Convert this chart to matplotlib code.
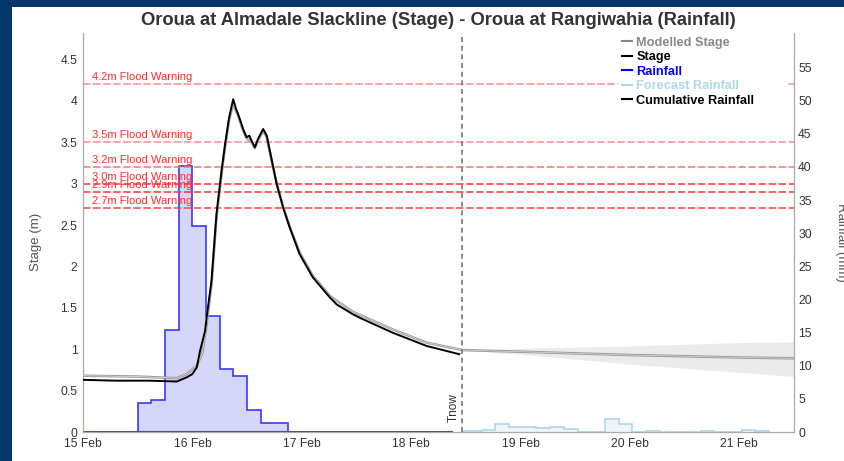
import matplotlib
matplotlib.use("Agg")
import matplotlib.pyplot as plt
import matplotlib.dates as mdates
from matplotlib.patches import Rectangle
from matplotlib.ticker import FuncFormatter
import numpy as np
import pandas as pd

plt.rcParams['font.family'] = ['Liberation Sans', 'DejaVu Sans']

t0 = pd.Timestamp("2004-02-15 00:00")
t_now = pd.Timestamp("2004-02-18 11:12")

# observed stage (days after 15 Feb 00:00, metres)
stage_days = [0.0, 0.3, 0.6, 0.857, 0.948, 1.0, 1.04, 1.07, 1.116, 1.13, 1.175, 1.22,
              1.267, 1.297, 1.336, 1.373, 1.40, 1.418, 1.464, 1.495, 1.52, 1.54, 1.571,
              1.60, 1.647, 1.68, 1.72, 1.77, 1.83, 1.89, 1.98, 2.10, 2.26, 2.32, 2.47,
              2.53, 2.83, 3.14, 3.44]
stage_m = [0.63, 0.62, 0.62, 0.61, 0.66, 0.70, 0.78, 0.98, 1.22, 1.38, 1.83, 2.63,
           3.16, 3.46, 3.80, 4.02, 3.90, 3.84, 3.66, 3.56, 3.58, 3.52, 3.44,
           3.54, 3.66, 3.58, 3.32, 3.00, 2.71, 2.47, 2.15, 1.87, 1.62, 1.54, 1.42,
           1.38, 1.20, 1.04, 0.94]

# modelled stage, hindcast + forecast
model_days = [0.0, 0.5, 0.857, 0.948, 1.04, 1.09, 1.13, 1.175, 1.22, 1.267, 1.297, 1.336,
              1.373, 1.418, 1.464, 1.495, 1.54, 1.571, 1.60, 1.647, 1.68, 1.72, 1.77,
              1.83, 1.89, 1.98, 2.10, 2.26, 2.47, 2.83, 3.14, 3.467, 4.0, 5.0, 6.0, 6.5]
model_m = [0.68, 0.67, 0.65, 0.70, 0.80, 0.95, 1.30, 1.78, 2.58, 3.12, 3.43, 3.77,
           3.96, 3.82, 3.64, 3.55, 3.50, 3.43, 3.52, 3.64, 3.56, 3.31, 3.00,
           2.72, 2.48, 2.17, 1.89, 1.64, 1.45, 1.24, 1.08, 0.99, 0.97, 0.93, 0.90, 0.89]

# forecast uncertainty band
band_days = [3.467, 4.0, 5.0, 6.0, 6.5]
band_hi = [0.99, 1.01, 1.04, 1.08, 1.09]
band_lo = [0.99, 0.94, 0.82, 0.72, 0.67]

# observed rainfall, 3-hourly totals (mm) from 15 Feb 00:00
rain_mm = [0, 0, 0, 0, 4.4, 4.8, 15.4, 40.2, 31.1, 17.5, 9.45, 8.4, 3.3, 1.36, 1.36,
           0, 0, 0, 0, 0, 0, 0, 0, 0, 0, 0, 0]

# forecast rainfall (mm), first bin starts at Tnow, then 3-hourly from 18 Feb 15:30
fc_rain_mm = [0.15, 0.3, 1.15, 0.8, 0.7, 0.6, 0.75, 0.5, 0, 0.05, 2.0, 1.15,
              0, 0.2, 0.05, 0.05, 0, 0.2, 0.05, 0.05, 0.3, 0.2]

flood_levels = [4.2, 3.5, 3.2, 3.0, 2.9, 2.7]
flood_labels = ["4.2m Flood Warning", "3.5m Flood Warning", "3.2m Flood Warning",
                "3.0m Flood Warning", "2.9m Flood Warning", "2.7m Flood Warning"]
flood_colors = ["#ff8a8a", "#ff8a8a", "#ff7070", "#ff3030", "#ff3030", "#ff4040"]


def to_num(days):
    return mdates.date2num([t0 + pd.Timedelta(days=d) for d in days])


fig = plt.figure(figsize=(8.45, 4.61), dpi=100, facecolor="#05356b")
fig.patches.append(Rectangle((12 / 845, 0), 1, 1 - 7 / 461, transform=fig.transFigure,
                             facecolor="white", edgecolor="none", zorder=-10))

ax = fig.add_axes([83 / 845, 29 / 461, 711 / 845, 399 / 461])
ax2 = ax.twinx()
ax.set_zorder(ax2.get_zorder() + 1)
ax.patch.set_visible(False)
ax2.patch.set_facecolor("white")

# rainfall
rain_edges = mdates.date2num(pd.date_range(t0, periods=len(rain_mm) + 1, freq="3h"))
ax2.stairs(rain_mm, rain_edges, fill=True, color="#d6d6f9", zorder=1)
ax2.stairs(rain_mm, rain_edges, color="#3a3aff", linewidth=1.2, baseline=0, zorder=2)
ax2.plot([rain_edges[0], rain_edges[-1]], [0, 0], color="#3a3aff", linewidth=1.5, zorder=2)

fc_edges = [t_now] + list(pd.date_range("2004-02-18 15:30", periods=len(fc_rain_mm), freq="3h"))
fc_edges = mdates.date2num(fc_edges)
ax2.stairs(fc_rain_mm, fc_edges, fill=True, color="#eef6fa", zorder=1)
ax2.stairs(fc_rain_mm, fc_edges, color="#add8e6", linewidth=1.2, zorder=2)

# stage
ax.fill_between(to_num(band_days), band_lo, band_hi, color="#ebebeb", linewidth=0, zorder=1)
ax.plot(to_num(model_days), model_m, color="#999999", linewidth=1.8, zorder=3)
ax.plot(to_num(model_days), model_m, color="#dddddd", linewidth=0.5, zorder=3)
ax.plot(to_num(stage_days), stage_m, color="black", linewidth=1.4, zorder=4)

# flood warning lines
for lvl, lab, col in zip(flood_levels, flood_labels, flood_colors):
    ax.axhline(lvl, color=col, linewidth=1.1, dashes=(4.8, 1.8), zorder=2)
    ax.text(0.0127, lvl + 0.025, lab, transform=ax.get_yaxis_transform(),
            color="#ff2a2a", fontsize=8, va="bottom", ha="left", zorder=5)

# Tnow
tn = mdates.date2num(t_now)
ax.axvline(tn, color="#777777", linewidth=1.2, dashes=(3, 2.2), zorder=5)
ax.text(tn - 0.02, 0.025, "Tnow", rotation=90, fontsize=8.5, color="#333333",
        ha="right", va="bottom", transform=ax.get_xaxis_transform())

ax.set_xlim(mdates.date2num(t0), mdates.date2num(pd.Timestamp("2004-02-21 12:00")))
ax.set_ylim(0, 4.82)
ax2.set_ylim(0, 60.2)
ax.set_yticks(np.arange(0, 4.6, 0.5))
ax.yaxis.set_major_formatter(FuncFormatter(lambda v, p: f"{v:g}"))
ax2.set_yticks(np.arange(0, 56, 5))
ax.xaxis.set_major_locator(mdates.DayLocator())
ax.xaxis.set_major_formatter(mdates.DateFormatter("%d %b"))

for a in (ax, ax2):
    a.tick_params(length=0, labelsize=8.7, labelcolor="#333333")
    a.spines["top"].set_visible(False)
    for s in ("left", "right", "bottom"):
        a.spines[s].set_color("#aaaaaa")
ax.tick_params(axis="y", pad=4)
ax.tick_params(axis="x", pad=4)
ax2.tick_params(axis="y", pad=3)

ax.set_ylabel("Stage (m)", fontsize=9.5, color="#555555")
ax.yaxis.set_label_coords(-0.057, 0.477)
ax2.set_ylabel("Rainfall (mm)", fontsize=9.5, color="#555555", rotation=270, va="center")
ax2.yaxis.set_label_coords(1.066, 0.475)

ax.set_title("Oroua at Almadale Slackline (Stage) - Oroua at Rangiwahia (Rainfall)",
             fontsize=13.2, fontweight="bold", color="#333333", pad=6)

# legend
names = ["Modelled Stage", "Stage", "Rainfall", "Forecast Rainfall", "Cumulative Rainfall"]
cols = ["#888888", "black", "#0000ff", "#add8e6", "black"]
handles = [plt.Line2D([], [], color=c, linewidth=1.5) for c in cols]
leg = ax.legend(handles, names, loc="upper left", bbox_to_anchor=(0.744, 0.5, 0.256, 0.515),
                mode="expand", frameon=True, facecolor="white", edgecolor="none", framealpha=1,
                handlelength=0.85, handletextpad=0.3, labelspacing=0.2, borderpad=0.25,
                prop={"weight": "bold", "size": 9.2})
for txt, c in zip(leg.get_texts(), cols):
    txt.set_color(c)

fig.savefig("out.png", dpi=100, facecolor=fig.get_facecolor())
